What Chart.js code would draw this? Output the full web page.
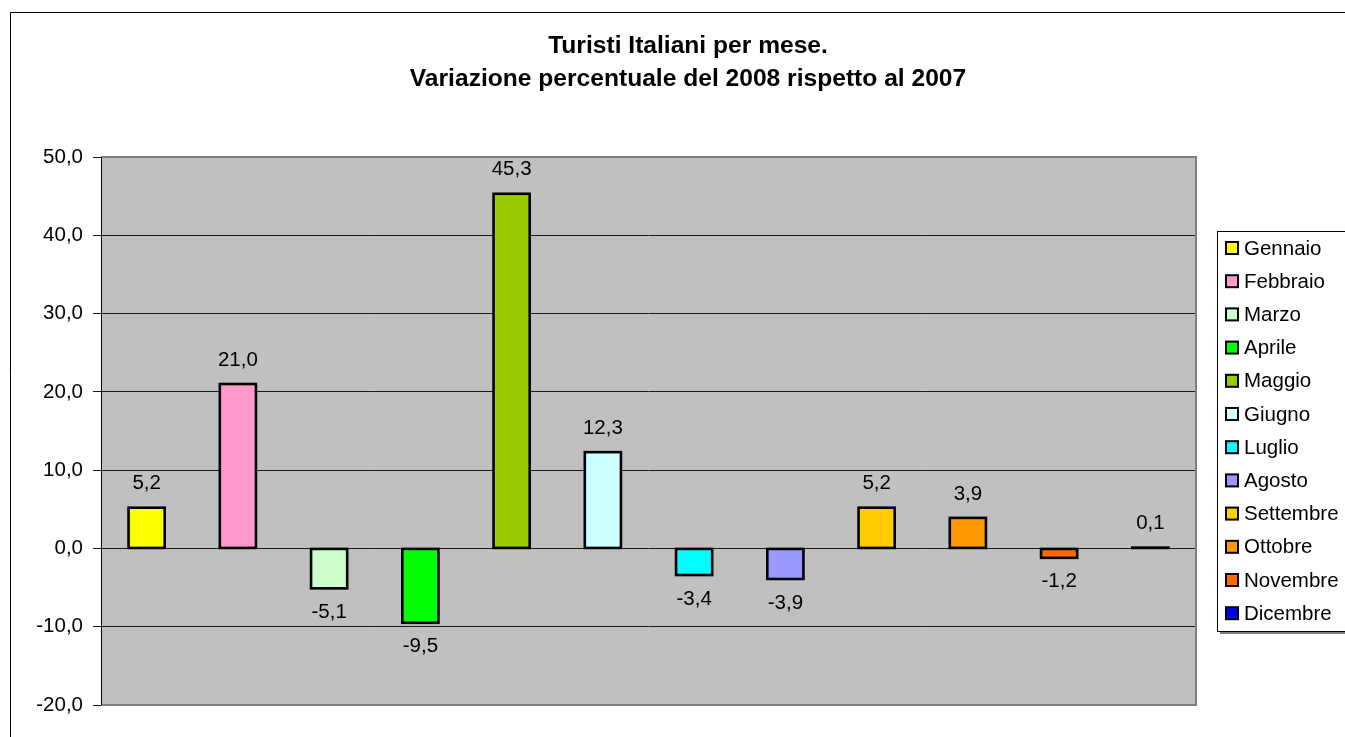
<!DOCTYPE html>
<html>
<head>
<meta charset="utf-8">
<script src="https://cdn.jsdelivr.net/npm/chart.js@4/dist/chart.umd.min.js"></script>
<style>
html,body{margin:0;padding:0;background:#fff;}
#wrap{width:1345px;height:737px;position:relative;}
</style>
</head>
<body>
<div id="wrap"><canvas id="c" width="1345" height="737"></canvas></div>
<script>
const titleLines = ["Turisti Italiani per mese.", "Variazione percentuale del 2008 rispetto al 2007"];
const months = ["Gennaio","Febbraio","Marzo","Aprile","Maggio","Giugno","Luglio","Agosto","Settembre","Ottobre","Novembre","Dicembre"];
const values = [5.2, 21.0, -5.1, -9.5, 45.3, 12.3, -3.4, -3.9, 5.2, 3.9, -1.2, 0.1];
const colors = ["#FFFF00","#FF99CC","#CCFFCC","#00FF00","#99CC00","#CCFFFF","#00FFFF","#9999FF","#FFCC00","#FF9900","#FF6600","#0000FF"];
const yMin = -20, yMax = 50, yStep = 10;

const FONT = "'Liberation Sans', Arial, sans-serif";
const fmt = v => v.toFixed(1).replace('.', ',');

const datasets = months.map((m, i) => ({
  label: m,
  data: [values[i]],
  backgroundColor: colors[i],
  borderWidth: 0,
  categoryPercentage: 1.0,
  barPercentage: 0.396
}));

const decor = {
  id: 'decor',
  beforeDraw(chart) {
    const ctx = chart.ctx, a = chart.chartArea;
    ctx.save();
    ctx.fillStyle = '#fff';
    ctx.fillRect(0, 0, chart.width, chart.height);
    ctx.strokeStyle = '#000';
    ctx.lineWidth = 1;
    ctx.beginPath();
    ctx.moveTo(10.5, 737);
    ctx.lineTo(10.5, 12.5);
    ctx.lineTo(1345, 12.5);
    ctx.stroke();
    ctx.fillStyle = '#C0C0C0';
    ctx.fillRect(a.left, a.top, a.right - a.left, a.bottom - a.top);
    ctx.restore();
  },
  afterDatasetsDraw(chart) {
    const ctx = chart.ctx;
    ctx.save();
    ctx.strokeStyle = '#000';
    ctx.lineWidth = 2.6;
    ctx.lineJoin = 'miter';
    chart.data.datasets.forEach((ds, i) => {
      const el = chart.getDatasetMeta(i).data[0];
      const top = Math.min(el.y, el.base), h = Math.abs(el.base - el.y);
      ctx.strokeRect(el.x - el.width / 2, top, el.width, h);
    });
    ctx.restore();
  },
  afterDraw(chart) {
    const ctx = chart.ctx, a = chart.chartArea;
    ctx.save();
    ctx.strokeStyle = '#808080';
    ctx.lineWidth = 2;
    ctx.beginPath();
    ctx.moveTo(a.left, a.top);
    ctx.lineTo(a.right, a.top);
    ctx.lineTo(a.right, a.bottom);
    ctx.lineTo(a.left, a.bottom);
    ctx.stroke();
    ctx.strokeStyle = '#000';
    ctx.lineWidth = 1;
    ctx.beginPath();
    ctx.moveTo(a.left + 0.5, a.top);
    ctx.lineTo(a.left + 0.5, a.bottom);
    ctx.stroke();

    ctx.fillStyle = '#000';
    ctx.textAlign = 'center';
    ctx.textBaseline = 'middle';
    ctx.font = "bold 24.6px " + FONT;
    ctx.fillText(titleLines[0], 688, 46);
    ctx.fillText(titleLines[1], 688, 79);

    ctx.font = "20.5px " + FONT;
    chart.data.datasets.forEach((ds, i) => {
      const el = chart.getDatasetMeta(i).data[0];
      const v = ds.data[0];
      const y = v >= 0 ? Math.min(el.y, el.base) - 24 : el.y + 24;
      ctx.fillText(fmt(v), el.x, y);
    });

    const lx = 1217, ly = 231, lw = 140, lh = 400;
    ctx.fillStyle = '#808080';
    ctx.fillRect(lx + 3, ly + lh, lw, 3);
    ctx.fillStyle = '#fff';
    ctx.fillRect(lx, ly, lw, lh);
    ctx.strokeStyle = '#000';
    ctx.lineWidth = 1;
    ctx.strokeRect(lx + 0.5, ly + 0.5, lw, lh);
    ctx.textAlign = 'left';
    ctx.font = "20.5px " + FONT;
    chart.data.datasets.forEach((ds, i) => {
      const cy = 248 + i * 33.2;
      ctx.fillStyle = ds.backgroundColor;
      ctx.fillRect(1226, cy - 6, 12, 12);
      ctx.strokeStyle = '#000';
      ctx.lineWidth = 2;
      ctx.strokeRect(1226, cy - 6, 12, 12);
      ctx.fillStyle = '#000';
      ctx.fillText(ds.label, 1244, cy + 1);
    });
    ctx.restore();
  }
};

new Chart(document.getElementById('c'), {
  type: 'bar',
  data: { labels: [''], datasets },
  options: {
    responsive: false,
    animation: false,
    devicePixelRatio: 1,
    layout: { padding: { top: 157, right: 149, bottom: 32, left: 0 } },
    plugins: {
      legend: { display: false },
      title: { display: false },
      tooltip: { enabled: false }
    },
    scales: {
      x: { display: false },
      y: {
        min: yMin, max: yMax,
        afterFit(scale) { scale.width = 101; },
        ticks: {
          stepSize: yStep,
          padding: 10,
          color: '#000',
          font: { family: FONT, size: 20.5 },
          callback: v => fmt(v)
        },
        grid: {
          color: '#1a1a1a',
          lineWidth: 1,
          tickLength: 8,
          drawTicks: true
        },
        border: { display: false }
      }
    }
  },
  plugins: [decor]
});
</script>
</body>
</html>
